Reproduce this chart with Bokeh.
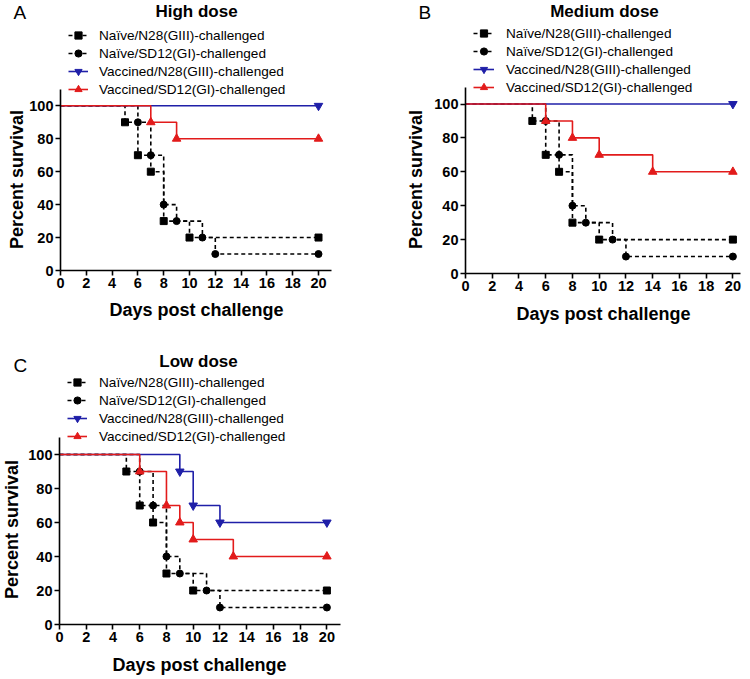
import math
from bokeh.plotting import figure
from bokeh.models import Range1d, FixedTicker, Legend, LegendItem, Label, LinearAxis
from bokeh.embed import file_html
from bokeh.resources import INLINE

FONT = "Liberation Sans"
BLACK = "#000000"
BLUE = "#1f1fa8"
RED = "#e21b1b"

series_labels = [
    "Naïve/N28(GIII)-challenged",
    "Naïve/SD12(GI)-challenged",
    "Vaccined/N28(GIII)-challenged",
    "Vaccined/SD12(GI)-challenged",
]
x_ticks = [0, 2, 4, 6, 8, 10, 12, 14, 16, 18, 20]
y_ticks = [0, 20, 40, 60, 80, 100]

# ---- High dose (A)
high_naive_n28_days = [0, 5, 6, 7, 8, 10, 20]
high_naive_n28_surv = [100, 90, 70, 60, 30, 20, 20]
high_naive_sd12_days = [0, 6, 7, 8, 9, 11, 12, 20]
high_naive_sd12_surv = [100, 90, 70, 40, 30, 20, 10, 10]
high_vacc_n28_days = [0, 20]
high_vacc_n28_surv = [100, 100]
high_vacc_sd12_days = [0, 7, 9, 20]
high_vacc_sd12_surv = [100, 90, 80, 80]

# ---- Medium dose (B)
med_naive_n28_days = [0, 5, 6, 7, 8, 10, 20]
med_naive_n28_surv = [100, 90, 70, 60, 30, 20, 20]
med_naive_sd12_days = [0, 6, 7, 8, 9, 11, 12, 20]
med_naive_sd12_surv = [100, 90, 70, 40, 30, 20, 10, 10]
med_vacc_n28_days = [0, 20]
med_vacc_n28_surv = [100, 100]
med_vacc_sd12_days = [0, 6, 8, 10, 14, 20]
med_vacc_sd12_surv = [100, 90, 80, 70, 60, 60]

# ---- Low dose (C)
low_naive_n28_days = [0, 5, 6, 7, 8, 10, 20]
low_naive_n28_surv = [100, 90, 70, 60, 30, 20, 20]
low_naive_sd12_days = [0, 6, 7, 8, 9, 11, 12, 20]
low_naive_sd12_surv = [100, 90, 70, 40, 30, 20, 10, 10]
low_vacc_n28_days = [0, 9, 10, 12, 20]
low_vacc_n28_surv = [100, 90, 70, 60, 60]
low_vacc_sd12_days = [0, 6, 8, 9, 10, 13, 20]
low_vacc_sd12_surv = [100, 90, 70, 60, 50, 40, 40]

STYLES = [
    (BLACK, "4 3", "square", 7),
    (BLACK, "4 3", "circle", 7),
    (BLUE, "solid", "inverted_triangle", 8.5),
    (RED, "solid", "triangle", 8.5),
]

# one figure covering the page, placed at the page origin
PX0, PY0, W, H = 0, 0, 748, 677

# per panel: page position of the data origin, pixels per unit, axis extents and
# text centre positions (page px)
panels = [
    dict(xr="default", yr="default", ox=60, oy=270, sx=12.9, sy=1.647, xend=21,
         legend=(68, 98, 20, 11), title=("High dose", 196, 11), letter=("A", 13, 11.5),
         ylab=(16, 179), xlab=(196, 309)),
    dict(xr="xb", yr="yb", ox=465, oy=273, sx=13.37, sy=1.695, xend=20.6,
         legend=(473, 96, 21, 12), title=("Medium dose", 604, 11), letter=("B", 418, 11.5),
         ylab=(415, 179), xlab=(603, 313)),
    dict(xr="xc", yr="yc", ox=59, oy=624, sx=13.37, sy=1.70, xend=21,
         legend=(67, 445, 20, 12), title=("Low dose", 198, 361), letter=("C", 13, 365),
         ylab=(11, 529), xlab=(199, 664)),
]
panel_series = [
    [(high_naive_n28_days, high_naive_n28_surv), (high_naive_sd12_days, high_naive_sd12_surv),
     (high_vacc_n28_days, high_vacc_n28_surv), (high_vacc_sd12_days, high_vacc_sd12_surv)],
    [(med_naive_n28_days, med_naive_n28_surv), (med_naive_sd12_days, med_naive_sd12_surv),
     (med_vacc_n28_days, med_vacc_n28_surv), (med_vacc_sd12_days, med_vacc_sd12_surv)],
    [(low_naive_n28_days, low_naive_n28_surv), (low_naive_sd12_days, low_naive_sd12_surv),
     (low_vacc_n28_days, low_vacc_n28_surv), (low_vacc_sd12_days, low_vacc_sd12_surv)],
]


def ranges_for(c):
    xr = Range1d((PX0 - c["ox"]) / c["sx"], (PX0 + W - c["ox"]) / c["sx"])
    yr = Range1d((c["oy"] - (PY0 + H)) / c["sy"], (c["oy"] - PY0) / c["sy"])
    return xr, yr


xa, ya = ranges_for(panels[0])
p = figure(width=W, height=H, output_backend="svg", toolbar_location=None,
           x_axis_type=None, y_axis_type=None, x_range=xa, y_range=ya,
           min_border=0, min_border_left=0, min_border_right=0,
           min_border_top=0, min_border_bottom=0,
           background_fill_color="white", border_fill_color="white")
p.outline_line_color = None
p.xgrid.visible = False
p.ygrid.visible = False
xb, yb = ranges_for(panels[1])
xc, yc = ranges_for(panels[2])
p.extra_x_ranges = {"xb": xb, "xc": xc}
p.extra_y_ranges = {"yb": yb, "yc": yc}


def style_axis(ax):
    ax.axis_line_width = 1.6
    ax.axis_line_color = BLACK
    ax.major_tick_line_width = 1.6
    ax.major_tick_line_color = BLACK
    ax.major_tick_in = 0
    ax.major_tick_out = 5
    ax.minor_tick_line_color = None
    ax.major_label_text_font = FONT
    ax.major_label_text_font_size = "14.5px"
    ax.major_label_text_font_style = "bold"
    ax.major_label_text_color = BLACK
    ax.major_label_standoff = 2


for c, series in zip(panels, panel_series):
    xr, yr = c["xr"], c["yr"]
    sx, sy, ox, oy = c["sx"], c["sy"], c["ox"], c["oy"]

    def to_data(px, py):
        return (px - ox) / sx, (oy - py) / sy

    xaxis = LinearAxis(x_range_name=xr, y_range_name=yr, fixed_location=0,
                       bounds=(0, c["xend"]), ticker=FixedTicker(ticks=x_ticks))
    yaxis = LinearAxis(x_range_name=xr, y_range_name=yr, fixed_location=0,
                       bounds=(0, 110), ticker=FixedTicker(ticks=y_ticks))
    style_axis(xaxis)
    style_axis(yaxis)
    p.add_layout(xaxis, "below")
    p.add_layout(yaxis, "left")

    items = []
    for (days, surv), lab, (color, dash, marker, msize) in zip(series, series_labels, STYLES):
        r1 = p.step(days, surv, mode="after", line_color=color, line_width=1.6,
                    line_dash=dash, x_range_name=xr, y_range_name=yr)
        r2 = p.scatter(days[1:], surv[1:], marker=marker, size=msize,
                       fill_color=color, line_color=color, x_range_name=xr, y_range_name=yr)
        items.append(LegendItem(label=lab, renderers=[r1, r2]))

    lx, lb, gw, ls = c["legend"]
    legend = Legend(items=items, location=(lx - PX0, PY0 + H - lb),
                    label_text_font=FONT, label_text_font_size="13.6px",
                    label_text_color=BLACK,
                    label_height=18, glyph_height=18, glyph_width=gw,
                    label_standoff=ls, spacing=0, padding=0, margin=0,
                    border_line_color=None, background_fill_alpha=0)
    p.add_layout(legend)

    t, tpx, tpy = c["title"]
    tx, ty = to_data(tpx, tpy)
    p.add_layout(Label(x=tx, y=ty, text=t, x_range_name=xr, y_range_name=yr,
                       text_font=FONT, text_font_size="17px", text_font_style="bold",
                       text_color=BLACK, text_align="center", text_baseline="middle"))
    l, lpx, lpy = c["letter"]
    ltx, lty = to_data(lpx, lpy)
    p.add_layout(Label(x=ltx, y=lty, text=l, x_range_name=xr, y_range_name=yr,
                       text_font=FONT, text_font_size="19px",
                       text_color=BLACK, text_align="left", text_baseline="middle"))
    ypx, ypy = c["ylab"]
    yx, yy = to_data(ypx, ypy)
    p.add_layout(Label(x=yx, y=yy, text="Percent survival", angle=math.pi / 2,
                       x_range_name=xr, y_range_name=yr,
                       text_font=FONT, text_font_size="18px", text_font_style="bold",
                       text_color=BLACK, text_align="center", text_baseline="middle"))
    xpx, xpy = c["xlab"]
    xx, xy = to_data(xpx, xpy)
    p.add_layout(Label(x=xx, y=xy, text="Days post challenge",
                       x_range_name=xr, y_range_name=yr,
                       text_font=FONT, text_font_size="18px", text_font_style="bold",
                       text_color=BLACK, text_align="center", text_baseline="middle"))

open("out.html", "w").write(file_html(p, INLINE))
